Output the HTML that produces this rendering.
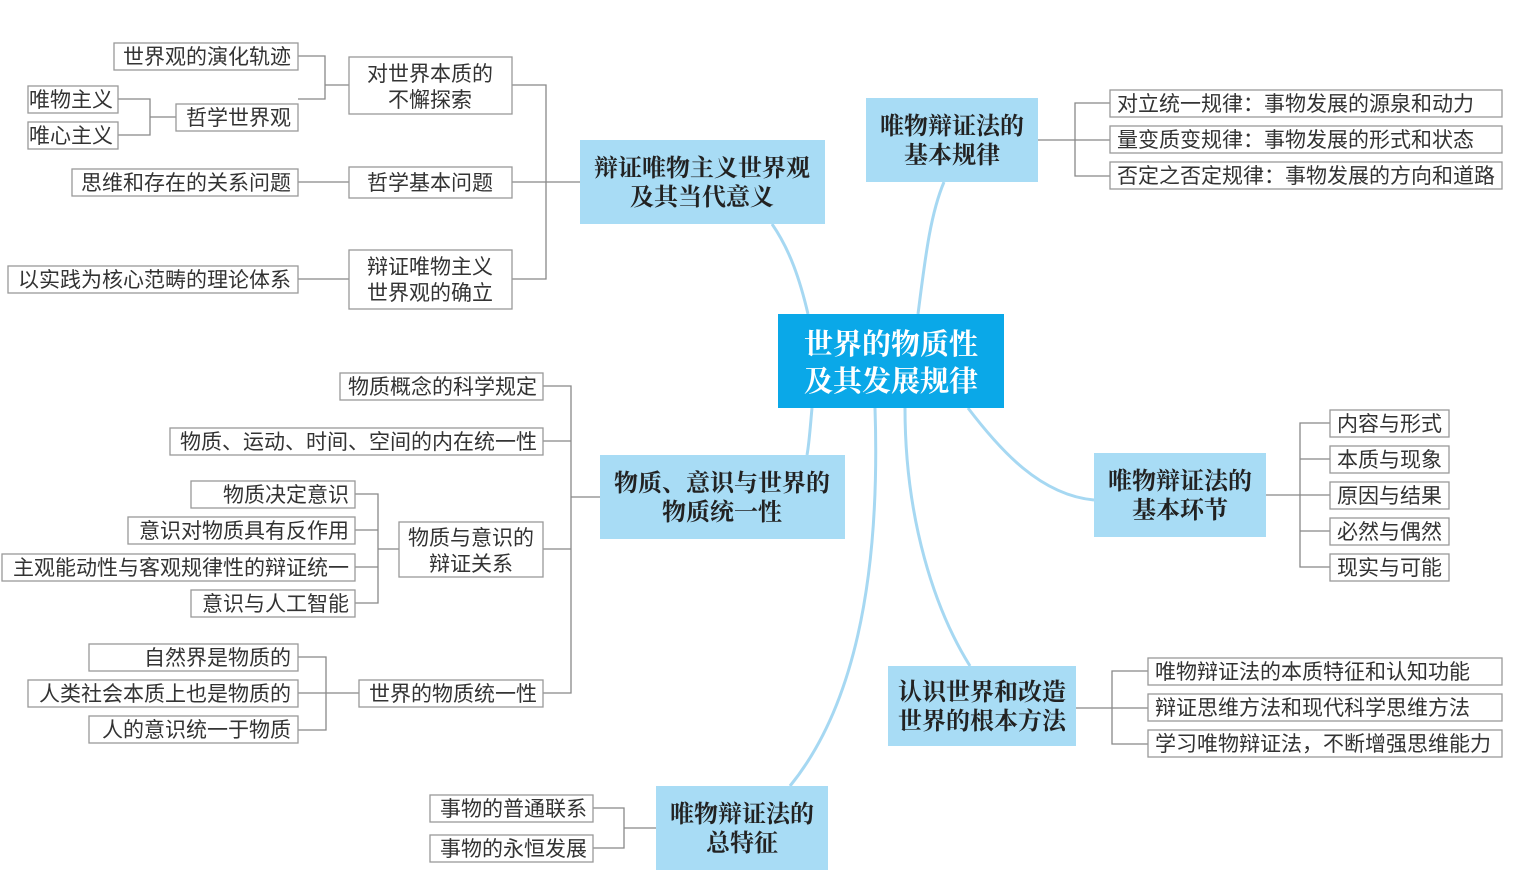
<!DOCTYPE html>
<html><head><meta charset="utf-8"><style>
html,body{margin:0;padding:0;background:#fff;}
svg{display:block}
.l{font-family:"Liberation Sans","Noto Sans CJK SC",sans-serif;font-size:21px;fill:#333;}
.t{font-family:"Liberation Serif","Noto Serif CJK SC",serif;font-size:24px;font-weight:bold;fill:#222;}
.c{font-family:"Liberation Serif","Noto Serif CJK SC",serif;font-size:29px;font-weight:bold;fill:#fff;}
</style></head><body>
<svg width="1536" height="883" viewBox="0 0 1536 883" xmlns="http://www.w3.org/2000/svg">
<g fill="none" stroke="#a6d8f2" stroke-width="3">
<path d="M808 314 C800 280 790 250 772 224"/>
<path d="M918 314 C925 260 930 215 944 182"/>
<path d="M812 408 C810 430 809 445 807 455"/>
<path d="M968 408 C1000 450 1040 495 1094 500"/>
<path d="M905 408 C905 520 935 610 970 666"/>
<path d="M875 408 C880 560 860 700 790 786"/>
</g>
<g fill="none" stroke="#888" stroke-width="1.3">
<path d="M298 56 H325 V99 H298 M325 85 H349"/>
<path d="M118 99 H150 V135 H118 M150 117 H176"/>
<path d="M298 182 H349"/>
<path d="M298 279 H349"/>
<path d="M512 85 H546 V279 H512 M512 182 H580"/>
<path d="M543 386 H571 V693 H543 M543 441 H571 M543 549 H571 M571 497 H600"/>
<path d="M355 494 H378 V603 H355 M355 530 H378 M355 567 H378 M378 549 H399"/>
<path d="M298 657 H326 V730 H298 M298 693 H359"/>
<path d="M593 808 H624 V848 H593 M624 828 H656"/>
<path d="M1038 140 H1110 M1110 103 H1075 V176 H1110"/>
<path d="M1266 495 H1330 M1330 423 H1300 V567 H1330 M1300 459 H1330 M1300 531 H1330"/>
<path d="M1076 708 H1148 M1148 671 H1112 V744 H1148"/>
</g>
<g fill="#fff" stroke="#999" stroke-width="1.3">
<rect x="114" y="43" width="184" height="27"/>
<rect x="176" y="104" width="122" height="27"/>
<rect x="28" y="86" width="90" height="27"/>
<rect x="28" y="122" width="90" height="27"/>
<rect x="349" y="57" width="163" height="57"/>
<rect x="72" y="169" width="226" height="27"/>
<rect x="349" y="167" width="163" height="31"/>
<rect x="8" y="266" width="290" height="27"/>
<rect x="349" y="250" width="163" height="59"/>
<rect x="340" y="373" width="203" height="27"/>
<rect x="170" y="428" width="373" height="27"/>
<rect x="399" y="522" width="144" height="55"/>
<rect x="359" y="680" width="184" height="27"/>
<rect x="191" y="481" width="164" height="27"/>
<rect x="128" y="517" width="227" height="27"/>
<rect x="2" y="554" width="353" height="27"/>
<rect x="191" y="590" width="164" height="27"/>
<rect x="89" y="644" width="209" height="27"/>
<rect x="28" y="680" width="270" height="27"/>
<rect x="89" y="716" width="209" height="27"/>
<rect x="430" y="795" width="163" height="27"/>
<rect x="430" y="835" width="163" height="27"/>
<rect x="1110" y="90" width="392" height="27"/>
<rect x="1110" y="126" width="392" height="27"/>
<rect x="1110" y="162" width="392" height="27"/>
<rect x="1330" y="410" width="119" height="27"/>
<rect x="1330" y="446" width="119" height="27"/>
<rect x="1330" y="482" width="119" height="27"/>
<rect x="1330" y="518" width="119" height="27"/>
<rect x="1330" y="554" width="119" height="27"/>
<rect x="1148" y="658" width="354" height="27"/>
<rect x="1148" y="694" width="354" height="27"/>
<rect x="1148" y="730" width="354" height="27"/>
</g>
<g fill="#a8dcf5">
<rect x="580" y="140" width="245" height="84"/>
<rect x="866" y="98" width="172" height="84"/>
<rect x="600" y="455" width="245" height="84"/>
<rect x="1094" y="453" width="172" height="84"/>
<rect x="888" y="666" width="188" height="80"/>
<rect x="656" y="786" width="172" height="84"/>
</g>
<rect x="778" y="314" width="226" height="94" fill="#0aa8e8"/>
<g class="c" text-anchor="middle">
<text x="891" y="354">世界的物质性</text>
<text x="891" y="391">及其发展规律</text>
</g>
<g class="t" text-anchor="middle">
<text x="702" y="176">辩证唯物主义世界观</text><text x="702" y="205">及其当代意义</text>
<text x="952" y="134">唯物辩证法的</text><text x="952" y="163">基本规律</text>
<text x="722" y="491">物质、意识与世界的</text><text x="722" y="520">物质统一性</text>
<text x="1180" y="489">唯物辩证法的</text><text x="1180" y="518">基本环节</text>
<text x="982" y="700">认识世界和改造</text><text x="982" y="729">世界的根本方法</text>
<text x="742" y="822">唯物辩证法的</text><text x="742" y="851">总特征</text>
</g>
<g class="l" text-anchor="end">
<text x="291" y="64">世界观的演化轨迹</text>
<text x="291" y="125">哲学世界观</text>
<text x="113" y="107">唯物主义</text>
<text x="113" y="143">唯心主义</text>
<text x="291" y="190">思维和存在的关系问题</text>
<text x="291" y="287">以实践为核心范畴的理论体系</text>
<text x="537" y="394">物质概念的科学规定</text>
<text x="537" y="449">物质、运动、时间、空间的内在统一性</text>
<text x="537" y="701">世界的物质统一性</text>
<text x="349" y="502">物质决定意识</text>
<text x="349" y="538">意识对物质具有反作用</text>
<text x="349" y="575">主观能动性与客观规律性的辩证统一</text>
<text x="349" y="611">意识与人工智能</text>
<text x="291" y="665">自然界是物质的</text>
<text x="291" y="701">人类社会本质上也是物质的</text>
<text x="291" y="737">人的意识统一于物质</text>
<text x="587" y="816">事物的普通联系</text>
<text x="587" y="856">事物的永恒发展</text>
</g>
<g class="l" text-anchor="middle">
<text x="430" y="81">对世界本质的</text><text x="430" y="107">不懈探索</text>
<text x="430" y="190">哲学基本问题</text>
<text x="430" y="274">辩证唯物主义</text><text x="430" y="300">世界观的确立</text>
<text x="471" y="545">物质与意识的</text><text x="471" y="571">辩证关系</text>
</g>
<g class="l">
<text x="1117" y="111">对立统一规律：事物发展的源泉和动力</text>
<text x="1117" y="147">量变质变规律：事物发展的形式和状态</text>
<text x="1117" y="183">否定之否定规律：事物发展的方向和道路</text>
<text x="1337" y="431">内容与形式</text>
<text x="1337" y="467">本质与现象</text>
<text x="1337" y="503">原因与结果</text>
<text x="1337" y="539">必然与偶然</text>
<text x="1337" y="575">现实与可能</text>
<text x="1155" y="679">唯物辩证法的本质特征和认知功能</text>
<text x="1155" y="715">辩证思维方法和现代科学思维方法</text>
<text x="1155" y="751">学习唯物辩证法，不断增强思维能力</text>
</g>
</svg>
</body></html>
